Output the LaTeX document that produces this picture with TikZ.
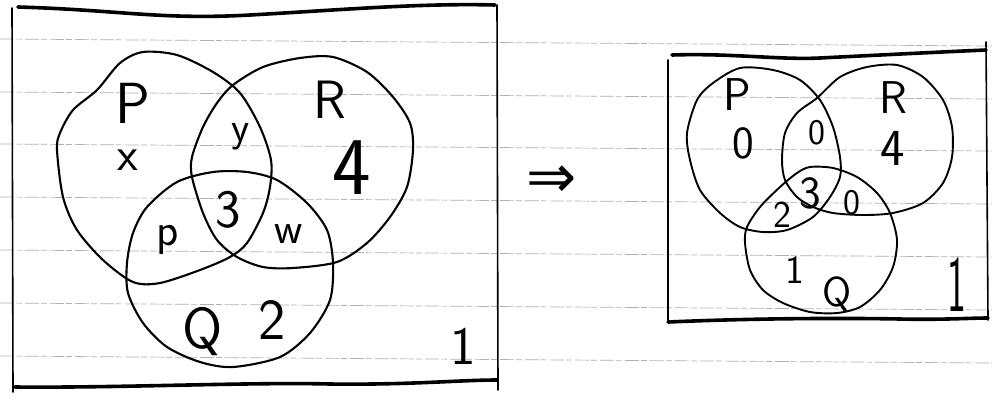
\documentclass[tikz,border=0pt]{standalone}
\usepackage{fontspec}
\newfontfamily\symfont{DejaVu Sans}
\begin{document}
\newcommand{\fsz}[1]{\fontsize{#1}{#1}\selectfont}
\begin{tikzpicture}[x=1pt,y=-1pt,
  rule/.style={gray!60,line width=0.7pt,dash pattern=on 14pt off 2pt on 6pt off 3pt},
  side/.style={line width=1.6pt,line cap=round},
  edge/.style={line width=3.6pt,line cap=round},
  ring/.style={line width=2.1pt},
  ringsm/.style={line width=1.9pt},
  lab/.style={inner sep=0pt,font=\sffamily}]
\useasboundingbox (0,0) rectangle (992,400);
\fill[white] (0,0) rectangle (992,400);
% notebook rules
\foreach \yy in {39,92,144,197,250,303,356}
  \draw[rule] (0,\yy) -- (992,\yy+7);
% left frame
\draw[edge] (18,7) .. controls (120,10) and (160,20) .. (250,15) .. controls (340,10) and (420,3) .. (495,5);
\draw[side] (12,8) -- (13,392);
\draw[side] (497,5) -- (498,390);
\draw[edge] (15,387) .. controls (120,388) and (250,382) .. (330,384) .. controls (410,385) and (460,380) .. (497,380);
% left Venn
\draw[ring] plot[smooth cycle] coordinates {(143,52) (177,55) (213,72) (240,93) (260,127) (271,160) (270,187) (263,213) (247,243) (230,257) (200,270) (160,283) (133,282) (103,260) (77,230) (63,197) (57,150) (60,133) (73,110) (97,90) (120,63)};
\draw[ring] plot[smooth cycle] coordinates {(233,85) (263,67) (300,58) (333,57) (367,72) (393,97) (410,123) (413,150) (407,187) (390,217) (367,243) (337,262) (293,268) (263,267) (237,257) (217,240) (203,213) (192,177) (192,157) (203,127) (217,103)};
\draw[ring] plot[smooth cycle] coordinates {(213,172) (247,172) (277,180) (307,203) (327,230) (333,263) (330,300) (310,333) (280,357) (233,367) (200,362) (167,347) (143,323) (128,293) (127,263) (133,233) (147,207) (177,182)};
\node[lab] (lP) at (133,103) {\fsz{58}P};
\node[lab] (lx) at (128,160) {\fsz{48}x};
\node[lab] (ly) at (241,137) {\fsz{42}y};
\node[lab] (lR) at (330,100) {\fsz{54}R};
\node[lab] (l4) at (352,168) {\fsz{82}4};
\node[lab] (l3) at (228,210) {\fsz{54}3};
\node[lab] (lp) at (168,240) {\fsz{46}p};
\node[lab] (lw) at (289,234) {\fsz{44}w};
\node[lab] (lQ) at (203,332) {\fsz{58}Q};
\node[lab] (l2) at (272,320) {\fsz{58}2};
\node[lab] (l1) at (463,346) {\fsz{54}1};
% arrow
\node[inner sep=0pt] (arr) at (552,182) {\symfont\fsz{60}⇒};
% right frame
\draw[edge] (672,55) .. controls (730,53) and (780,60) .. (820,58) .. controls (880,55) and (940,52) .. (986,50);
\draw[side] (668,60) -- (668,322);
\draw[side] (986,42) -- (988,320);
\draw[edge] (668,322) .. controls (760,318) and (850,318) .. (900,319) .. controls (940,320) and (970,318) .. (988,318);
% right Venn
\draw[ringsm] plot[smooth cycle] coordinates {(740,68) (773,70) (800,80) (820,100) (833,127) (840,157) (840,177) (830,197) (813,217) (787,230) (763,232) (740,227) (720,213) (700,190) (690,160) (687,133) (697,100) (713,83)};
\draw[ringsm] plot[smooth cycle] coordinates {(817,98) (840,77) (867,67) (897,65) (923,77) (943,100) (952,127) (952,157) (943,183) (923,203) (893,213) (863,215) (833,213) (813,207) (797,197) (785,180) (782,160) (785,133) (797,113)};
\draw[ringsm] plot[smooth cycle] coordinates {(810,167) (833,168) (857,177) (877,193) (890,213) (897,240) (893,267) (880,290) (860,307) (837,313) (810,312) (783,303) (763,290) (750,270) (745,243) (747,227) (760,207) (780,187) (797,173)};
\node[lab] (rP) at (737,95) {\fsz{46}P};
\node[lab] (r0a) at (743,143) {\fsz{46}0};
\node[lab] (r0b) at (817,133) {\fsz{36}0};
\node[lab] (rR) at (893,98) {\fsz{46}R};
\node[lab] (r4) at (893,148) {\fsz{52}4};
\node[lab] (r3) at (810,193) {\fsz{46}3};
\node[lab] (r2) at (782,215) {\fsz{38}2};
\node[lab] (r0c) at (852,203) {\fsz{36}0};
\node[lab] (r1) at (795,270) {\fsz{40}1};
\node[lab] (rQ) at (837,294) {\fsz{42}Q};
\node[lab] (r1b) at (957,285) {\scalebox{0.8}[1.6]{\fsz{50}1}};
\end{tikzpicture}
\end{document}
